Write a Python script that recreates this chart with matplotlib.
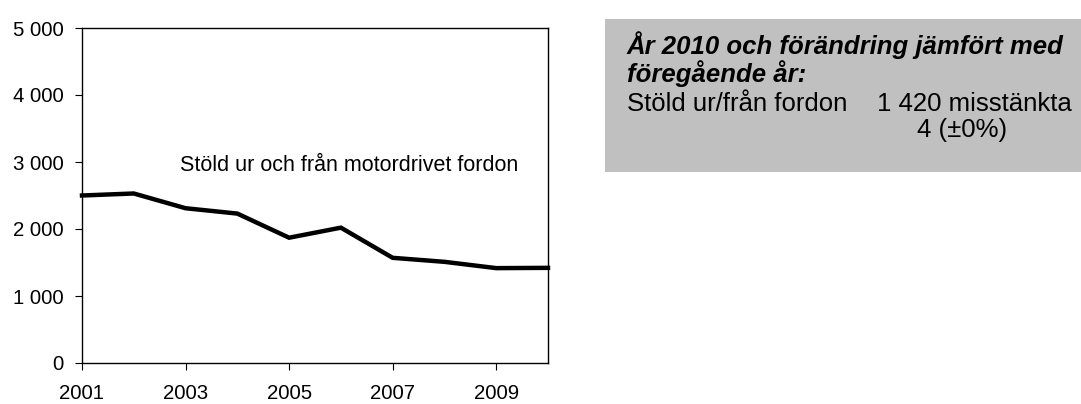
import matplotlib
matplotlib.use("Agg")
import matplotlib.pyplot as plt
from matplotlib.patches import Rectangle
from matplotlib.ticker import FuncFormatter

plt.rcParams['font.family'] = ['Liberation Sans', 'DejaVu Sans']

years = [2001, 2002, 2003, 2004, 2005, 2006, 2007, 2008, 2009, 2010]
suspects = [2500, 2530, 2310, 2230, 1870, 2020, 1570, 1510, 1416, 1420]
xtick_years = [2001, 2003, 2005, 2007, 2009]
ytick_values = [0, 1000, 2000, 3000, 4000, 5000]
series_label = "Stöld ur och från motordrivet fordon"
box_title = "År 2010 och förändring jämfört med\nföregående år:"
box_row_name = "Stöld ur/från fordon"
box_row_value = "1 420 misstänkta"
box_row_change = "4 (±0%)"

W, H = 1081, 404
fig = plt.figure(figsize=(W / 100, H / 100), dpi=100)
ax = fig.add_axes([82 / W, 1 - 363 / H, (548 - 82) / W, (363 - 28) / H])

ax.plot(years, suspects, color='black', lw=3.2, solid_joinstyle='miter', clip_on=False)
ax.set_xlim(2001, 2010)
ax.set_ylim(0, 5000)
ax.set_xticks(xtick_years)
ax.set_yticks(ytick_values)
ax.yaxis.set_major_formatter(FuncFormatter(lambda v, p: f"{int(v):,}".replace(",", " ")))
ax.tick_params(axis='both', direction='out', length=5, width=0.8, labelsize=14.7, colors='black')
ax.tick_params(axis='y', pad=8)
ax.tick_params(axis='x', pad=10)
for s in ax.spines.values():
    s.set_linewidth(1.0)
    s.set_color('black')

ax.text(2002.9, 2950, series_label, fontsize=15.5, ha='left', va='center')

# grey info box
fig.patches.append(Rectangle((605 / W, 1 - 172 / H), (W - 605) / W, (172 - 19) / H,
                             transform=fig.transFigure, facecolor='#c0c0c0', edgecolor='none'))
fig.text(627 / W, 1 - 59 / H, box_title, fontsize=18.5, fontweight='bold', fontstyle='italic',
         ha='left', va='center', linespacing=1.05)
fig.text(627 / W, 1 - 104 / H, box_row_name, fontsize=18.5, ha='left', va='center')
fig.text(877 / W, 1 - 104 / H, box_row_value, fontsize=18.5, ha='left', va='center')
fig.text(1007 / W, 1 - 130 / H, box_row_change, fontsize=18.5, ha='right', va='center')

fig.savefig("out.png", dpi=100)
